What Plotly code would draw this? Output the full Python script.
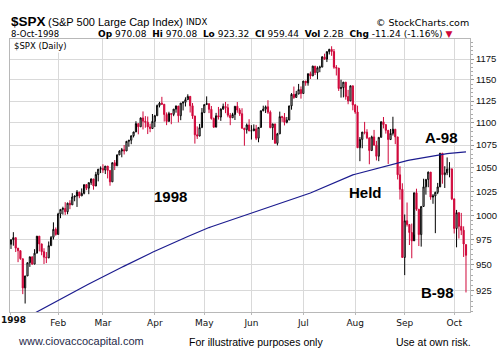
import pandas as pd
import plotly.graph_objects as go

# ---- data (S&P 500 daily, 1998) ----
holidays = ["1998-01-19", "1998-02-16", "1998-04-10", "1998-05-25", "1998-07-03", "1998-09-07"]
dates = [d for d in pd.bdate_range("1998-01-02", "1998-10-08").strftime("%Y-%m-%d") if d not in holidays]

opens = [970.43, 975.04, 977.07, 966.58, 964.00, 956.05, 927.69, 939.21, 952.12, 957.94, 950.73, 961.51, 978.60, 970.81, 963.04, 957.59, 956.95, 969.02, 977.46, 985.49,
         980.28, 1001.27, 1006.00, 1006.90, 1003.54, 1012.46, 1010.74, 1019.01, 1020.01, 1024.14, 1020.09, 1022.76, 1032.08, 1028.28, 1034.21, 1038.14, 1030.56, 1042.90, 1048.67,
         1049.34, 1047.70, 1052.02, 1047.33, 1035.05, 1055.69, 1052.31, 1064.25, 1068.47, 1069.92, 1068.61, 1079.27, 1080.45, 1085.52, 1089.74, 1099.16, 1095.55, 1105.65, 1101.93, 1100.80, 1095.44, 1093.60,
         1101.75, 1108.15, 1120.01, 1122.70, 1121.38, 1109.55, 1101.65, 1110.67, 1109.69, 1115.75, 1119.32, 1108.17, 1122.72, 1123.65, 1126.67, 1130.54, 1119.58, 1107.90, 1086.54, 1085.11, 1094.63,
         1111.75, 1121.00, 1122.07, 1115.50, 1104.92, 1095.14, 1108.14, 1106.64, 1115.79, 1118.86, 1117.37, 1108.73, 1105.82, 1109.52, 1119.06, 1114.64, 1110.47, 1094.02, 1092.23, 1097.60,
         1090.82, 1090.98, 1093.22, 1082.73, 1094.83, 1113.86, 1115.72, 1118.41, 1112.28, 1094.58, 1098.84, 1077.01, 1087.59, 1107.11, 1106.37, 1100.65, 1103.21, 1119.49, 1132.88, 1129.28, 1133.20, 1138.49,
         1133.84, 1148.56, 1146.42, 1157.33, 1154.66, 1166.38, 1158.56, 1164.33, 1165.19, 1177.58, 1174.81, 1183.99, 1186.75, 1184.10, 1165.07, 1164.08, 1139.75, 1140.80, 1147.27, 1130.24, 1125.21, 1142.95,
         1120.67, 1112.44, 1072.12, 1081.43, 1089.63, 1089.45, 1083.14, 1068.98, 1084.22, 1074.91, 1062.75, 1083.67, 1101.20, 1098.06, 1091.60, 1081.24, 1088.14, 1092.85, 1084.19, 1042.59, 1027.14,
         957.28, 994.26, 990.47, 982.26, 973.89, 1023.46, 1006.20, 980.19, 1009.06, 1029.72, 1037.68, 1045.48, 1018.87, 1020.09, 1023.89, 1029.63, 1066.09, 1042.72, 1044.75, 1048.69, 1049.02,
         1017.01, 986.39, 1002.60, 988.56, 984.59, 970.08]

highs = [975.04, 982.63, 977.07, 966.58, 964.00, 956.05, 939.25, 952.14, 958.12, 957.94, 965.50, 978.60, 978.60, 970.81, 966.44, 962.67, 973.23, 978.63, 992.65, 987.41,
         1002.48, 1006.13, 1008.76, 1013.51, 1013.07, 1015.57, 1022.97, 1020.01, 1026.30, 1024.14, 1028.02, 1032.08, 1032.08, 1034.21, 1038.68, 1038.14, 1045.79, 1048.68, 1051.66,
         1053.98, 1052.02, 1052.02, 1047.33, 1055.69, 1058.60, 1064.59, 1069.35, 1071.87, 1075.11, 1079.46, 1080.70, 1085.52, 1089.74, 1101.90, 1099.24, 1106.07, 1113.09, 1107.71, 1107.27, 1099.16, 1110.13,
         1109.19, 1121.01, 1124.16, 1130.00, 1121.38, 1111.97, 1112.69, 1111.01, 1115.75, 1119.90, 1119.32, 1122.72, 1124.86, 1129.43, 1132.98, 1130.54, 1122.76, 1107.90, 1095.99, 1098.87, 1116.99,
         1121.02, 1130.52, 1122.07, 1119.36, 1106.07, 1111.42, 1118.25, 1116.58, 1122.15, 1124.07, 1121.77, 1111.33, 1111.50, 1119.08, 1123.94, 1116.89, 1116.76, 1094.02, 1099.31, 1104.16,
         1097.43, 1098.28, 1097.72, 1095.00, 1113.88, 1119.70, 1119.91, 1126.05, 1114.19, 1098.92, 1098.84, 1088.69, 1112.87, 1108.11, 1111.26, 1106.74, 1119.49, 1134.40, 1142.04, 1136.94, 1145.15, 1142.18,
         1148.56, 1148.56, 1157.33, 1159.82, 1166.87, 1166.38, 1166.15, 1166.94, 1178.47, 1181.49, 1184.00, 1187.42, 1190.58, 1187.20, 1167.67, 1164.08, 1150.14, 1147.32, 1147.27, 1138.16, 1142.95, 1142.95,
         1121.32, 1119.73, 1084.03, 1089.63, 1101.12, 1092.82, 1083.14, 1085.59, 1092.04, 1079.80, 1083.67, 1101.72, 1106.70, 1098.06, 1091.60, 1093.11, 1106.98, 1092.85, 1084.19, 1051.80, 1033.50,
         1000.71, 1013.19, 990.47, 991.41, 1023.46, 1027.72, 1006.20, 1009.06, 1038.38, 1037.68, 1046.07, 1045.48, 1022.01, 1024.51, 1033.89, 1066.09, 1066.11, 1051.89, 1061.45, 1056.31, 1049.02,
         1017.01, 1005.45, 1000.04, 1002.36, 988.56, 970.08]

lows = [965.73, 969.00, 962.68, 952.67, 955.04, 921.72, 912.83, 939.21, 948.02, 950.27, 950.73, 961.48, 963.29, 959.49, 950.86, 951.74, 956.52, 969.02, 975.21, 979.06,
        980.28, 996.90, 1000.59, 1000.27, 1000.91, 1006.25, 1010.74, 1014.50, 1008.56, 1017.71, 1020.09, 1021.70, 1026.20, 1021.91, 1031.79, 1026.68, 1030.56, 1035.52, 1044.40,
        1044.69, 1043.41, 1038.71, 1030.90, 1035.05, 1047.72, 1052.31, 1064.25, 1061.61, 1064.69, 1068.61, 1073.22, 1076.06, 1083.59, 1089.74, 1087.08, 1095.55, 1092.56, 1094.51, 1087.40, 1089.46, 1093.60,
        1095.25, 1108.15, 1117.70, 1121.00, 1101.47, 1097.43, 1101.65, 1098.48, 1107.62, 1111.66, 1100.58, 1103.04, 1114.22, 1118.81, 1126.67, 1111.86, 1104.57, 1076.70, 1081.94, 1085.11, 1094.63,
        1111.75, 1121.00, 1111.16, 1103.72, 1094.43, 1095.14, 1103.83, 1102.32, 1115.08, 1111.09, 1106.39, 1097.41, 1105.82, 1103.26, 1111.56, 1107.97, 1093.42, 1074.39, 1087.90, 1090.82,
        1081.23, 1090.98, 1080.64, 1078.20, 1094.83, 1113.31, 1111.31, 1110.27, 1093.96, 1080.83, 1077.01, 1074.67, 1087.58, 1101.11, 1097.12, 1099.49, 1103.21, 1115.10, 1127.62, 1129.28, 1133.20, 1127.89,
        1133.84, 1142.99, 1143.09, 1150.97, 1154.66, 1155.75, 1150.61, 1159.10, 1165.19, 1173.96, 1171.30, 1180.53, 1178.87, 1163.17, 1155.20, 1136.89, 1129.11, 1129.35, 1126.67, 1121.41, 1125.21, 1114.40,
        1110.32, 1071.82, 1057.36, 1071.54, 1087.09, 1081.70, 1054.00, 1068.98, 1074.91, 1058.20, 1057.36, 1083.67, 1093.72, 1087.85, 1054.31, 1081.24, 1085.76, 1076.11, 1037.61, 1016.28, 957.28,
        939.98, 988.35, 969.69, 956.51, 980.15, 1004.56, 968.64, 968.08, 1009.06, 1021.43, 1029.31, 1016.05, 1011.86, 981.62, 1021.96, 1029.63, 1033.04, 1028.49, 1042.23, 1039.88, 1015.73,
        981.29, 967.39, 976.16, 979.69, 957.81, 923.32]

closes = [975.04, 977.07, 966.58, 964.00, 956.05, 927.69, 939.21, 952.12, 957.94, 950.73, 961.51, 978.60, 970.81, 963.04, 957.59, 956.95, 969.02, 977.46, 985.49, 980.28,
          1001.27, 1006.00, 1006.90, 1003.54, 1012.46, 1010.74, 1019.01, 1020.01, 1024.14, 1020.09, 1022.76, 1032.08, 1028.28, 1034.21, 1038.14, 1030.56, 1042.90, 1048.67, 1049.34,
          1047.70, 1052.02, 1047.33, 1035.05, 1055.69, 1052.31, 1064.25, 1068.47, 1069.92, 1068.61, 1079.27, 1080.45, 1085.52, 1089.74, 1099.16, 1095.55, 1105.65, 1101.93, 1100.80, 1095.44, 1093.60, 1101.75,
          1108.15, 1120.01, 1122.70, 1121.38, 1109.55, 1101.65, 1110.67, 1109.69, 1115.75, 1119.32, 1108.17, 1122.72, 1123.65, 1126.67, 1130.54, 1119.58, 1107.90, 1086.54, 1085.11, 1094.63, 1111.75,
          1121.00, 1122.07, 1115.50, 1104.92, 1095.14, 1108.14, 1106.64, 1115.79, 1118.86, 1117.37, 1108.73, 1105.82, 1109.52, 1119.06, 1114.64, 1110.47, 1094.02, 1092.23, 1097.60, 1090.82,
          1090.98, 1093.22, 1082.73, 1094.83, 1113.86, 1115.72, 1118.41, 1112.28, 1094.58, 1098.84, 1077.01, 1087.59, 1107.11, 1106.37, 1100.65, 1103.21, 1119.49, 1132.88, 1129.28, 1133.20, 1138.49, 1133.84,
          1148.56, 1146.42, 1157.33, 1154.66, 1166.38, 1158.56, 1164.33, 1165.19, 1177.58, 1174.81, 1183.99, 1186.75, 1184.10, 1165.07, 1164.08, 1139.75, 1140.80, 1147.27, 1130.24, 1125.21, 1142.95, 1120.67,
          1112.44, 1072.12, 1081.43, 1089.63, 1089.45, 1083.14, 1068.98, 1084.22, 1074.91, 1062.75, 1083.67, 1101.20, 1098.06, 1091.60, 1081.24, 1088.14, 1092.85, 1084.19, 1042.59, 1027.14, 957.28,
          994.26, 990.47, 982.26, 973.89, 1023.46, 1006.20, 980.19, 1009.06, 1029.72, 1037.68, 1045.48, 1018.87, 1020.09, 1023.89, 1029.63, 1066.09, 1042.72, 1044.75, 1048.69, 1049.02, 1017.01,
          986.39, 1002.60, 988.56, 984.59, 970.68, 959.44]

ma200 = [892.0, 893.2, 894.4, 895.6, 896.8, 898.0, 899.2, 900.4, 901.6, 902.8, 904.0, 905.1,
         906.3, 907.5, 908.7, 909.9, 911.1, 912.3, 913.5, 914.7, 915.9, 917.1, 918.3, 919.5, 920.7, 921.9, 923.1, 924.3, 925.5, 926.7, 927.9, 929.1, 930.3, 931.5, 932.7, 933.9, 935.1, 936.3, 937.5,
         938.6, 939.8, 940.9, 942.0, 943.2, 944.3, 945.4, 946.6, 947.7, 948.8, 950.0, 951.1, 952.2, 953.4, 954.5, 955.6, 956.7, 957.9, 959.0, 960.1, 961.3, 962.4, 963.5, 964.7,
         965.7, 966.8, 967.8, 968.9, 969.9, 970.9, 972.0, 973.0, 974.0, 975.1, 976.1, 977.2, 978.2, 979.2, 980.3, 981.3, 982.3, 983.4, 984.4, 985.5, 986.5,
         987.3, 988.1, 988.9, 989.7, 990.5, 991.3, 992.1, 992.9, 993.7, 994.5, 995.4, 996.2, 997.0, 997.8, 998.6, 999.4, 1000.2, 1001.0, 1001.8, 1002.6,
         1003.4, 1004.3, 1005.1, 1005.9, 1006.7, 1007.6, 1008.4, 1009.2, 1010.1, 1010.9, 1011.7, 1012.5, 1013.4, 1014.2, 1015.0, 1015.9, 1016.7, 1017.5, 1018.3, 1019.2, 1020.0,
         1021.1, 1022.2, 1023.2, 1024.3, 1025.4, 1026.5, 1027.5, 1028.6, 1029.7, 1030.8, 1031.8, 1032.9, 1034.0,
         1035.1, 1036.1, 1037.2, 1038.2, 1039.3, 1040.4, 1041.4, 1042.5,
         1043.2, 1043.9, 1044.6, 1045.3, 1046.0, 1046.8, 1047.5, 1048.2, 1048.9, 1049.6, 1050.3, 1051.0,
         1051.7, 1052.4, 1053.1, 1053.8, 1054.4, 1055.1, 1055.8, 1056.5,
         1057.0, 1057.5, 1058.0, 1058.5, 1059.0, 1059.5, 1060.0, 1060.5, 1061.0, 1061.5, 1062.0, 1062.5, 1063.0, 1063.5, 1064.0, 1064.5, 1065.0,
         1065.2, 1065.5, 1065.7, 1065.9, 1066.1, 1066.4, 1066.6, 1066.8, 1067.0, 1067.3, 1067.5]

year_label = "1998"
month_labels = ["", "Feb", "Mar", "Apr", "May", "Jun", "Jul", "Aug", "Sep", "Oct"]
y_ticks = [925, 950, 975, 1000, 1025, 1050, 1075, 1100, 1125, 1150, 1175]

n = len(dates)
assert all(len(a) == n for a in (opens, highs, lows, closes, ma200)), [len(a) for a in (dates, opens, highs, lows, closes, ma200)]
idx = list(range(n))
month_pos = [i for i in idx if i == 0 or dates[i][5:7] != dates[i - 1][5:7]]

RED = "#d0073a"
BLACK = "#000000"
NAVY = "#1c1c8f"

up = [i for i in idx if i == 0 or closes[i] >= closes[i - 1]]
dn = [i for i in idx if i > 0 and closes[i] < closes[i - 1]]

fig = go.Figure()
for sel, col in ((up, BLACK), (dn, RED)):
    fig.add_trace(go.Candlestick(
        x=sel,
        open=[opens[i] for i in sel], high=[highs[i] for i in sel],
        low=[lows[i] for i in sel], close=[closes[i] for i in sel],
        increasing=dict(line=dict(color=col, width=1), fillcolor="white"),
        decreasing=dict(line=dict(color=col, width=1), fillcolor=col),
        whiskerwidth=0, showlegend=False, hoverinfo="skip"))

fig.add_trace(go.Scatter(x=idx, y=ma200, mode="lines", line=dict(color=NAVY, width=1.2),
                         showlegend=False, hoverinfo="skip"))

# plot area in pixels: x 10..470, y 39..312
L, R, T, B = 10, 470, 39, 312
def px(x):
    return (x - L) / (R - L)
def py(y):
    return (B - y) / (B - T)

ann = []
def txt(x, y, s, size=10, xanchor="left", family="DejaVu Sans", color="#000", **kw):
    ann.append(dict(x=px(x), y=py(y), xref="paper", yref="paper", text=s, showarrow=False,
                    xanchor=xanchor, yanchor="middle", font=dict(size=size, family=family, color=color), **kw))

txt(9, 21.5, "<b>$SPX</b>", size=13.5, family="Liberation Sans")
txt(46, 22, "(S&P 500 Large Cap Index)", size=11, family="Liberation Sans")
txt(184, 22, "INDX", size=8.5)
txt(471, 22, "© StockCharts.com", size=9.5, xanchor="right")
txt(9, 33.5, "8-Oct-1998", size=8.5)
txt(96, 33.5, "<b>Op</b> 970.08  <b>Hi</b> 970.08  <b>Lo</b> 923.32  <b>Cl</b> 959.44  <b>Vol</b> 2.2B  <b>Chg</b> -11.24 (-1.16%) "
        "<span style='color:#d0073a'>▼</span>", size=9)
txt(12, 46, "$SPX (Daily)", size=8.5, bgcolor="white")

# year label under the first (January) tick
txt(0, 320, "<b>" + year_label + "</b>", size=9, xanchor="left", color="#111", borderpad=0)

txt(170, 196, "<b>1998</b>", size=15, xanchor="center", family="Liberation Sans")
txt(365.5, 192, "<b>Held</b>", size=15, xanchor="center", family="Liberation Sans")
txt(441.5, 137, "<b>A-98</b>", size=15, xanchor="center", family="Liberation Sans")
txt(437, 292, "<b>B-98</b>", size=15, xanchor="center", family="Liberation Sans")

txt(16, 341, "www.ciovaccocapital.com", size=11, family="Liberation Sans", color="#1f2a4a")
txt(187, 342, "For illustrative purposes only", size=10.5, family="Liberation Sans")
txt(394, 342, "Use at own risk.", size=10.5, family="Liberation Sans")

fig.update_layout(
    width=502, height=358,
    margin=dict(l=L, r=502 - R, t=T, b=358 - B),
    paper_bgcolor="white", plot_bgcolor="white",
    annotations=ann,
    xaxis=dict(range=[-0.42, 194.7], tickmode="array", tickvals=month_pos, ticktext=month_labels,
               showgrid=True, gridcolor="#d9d9d9", gridwidth=1, zeroline=False,
               showline=True, linecolor="#b8b8b8", mirror=True,
               ticks="outside", ticklen=2, tickcolor="#b8b8b8",
               automargin=False, ticklabeloverflow="allow",
               tickfont=dict(size=9, family="DejaVu Sans", color="#111"),
               rangeslider=dict(visible=False), fixedrange=True),
    yaxis=dict(type="log", side="right", range=[2.95659, 3.07901], tickmode="array",
               tickvals=y_ticks, ticktext=[str(v) for v in y_ticks],
               showgrid=True, gridcolor="#d9d9d9", gridwidth=1, zeroline=False,
               showline=True, linecolor="#b8b8b8", mirror=True,
               ticks="outside", ticklen=3, tickcolor="#999",
               automargin=False, ticklabeloverflow="allow",
               minor=dict(tickmode="array", tickvals=list(range(905, 1200, 5)), ticks="outside",
                          ticklen=2, tickcolor="#aaa", showgrid=False),
               tickfont=dict(size=9.5, family="Liberation Sans", color="#111"), fixedrange=True),
)

fig.write_html("out.html", config={"displayModeBar": False, "staticPlot": True},
               post_script="document.body.style.margin='0';document.body.style.overflow='hidden';")
